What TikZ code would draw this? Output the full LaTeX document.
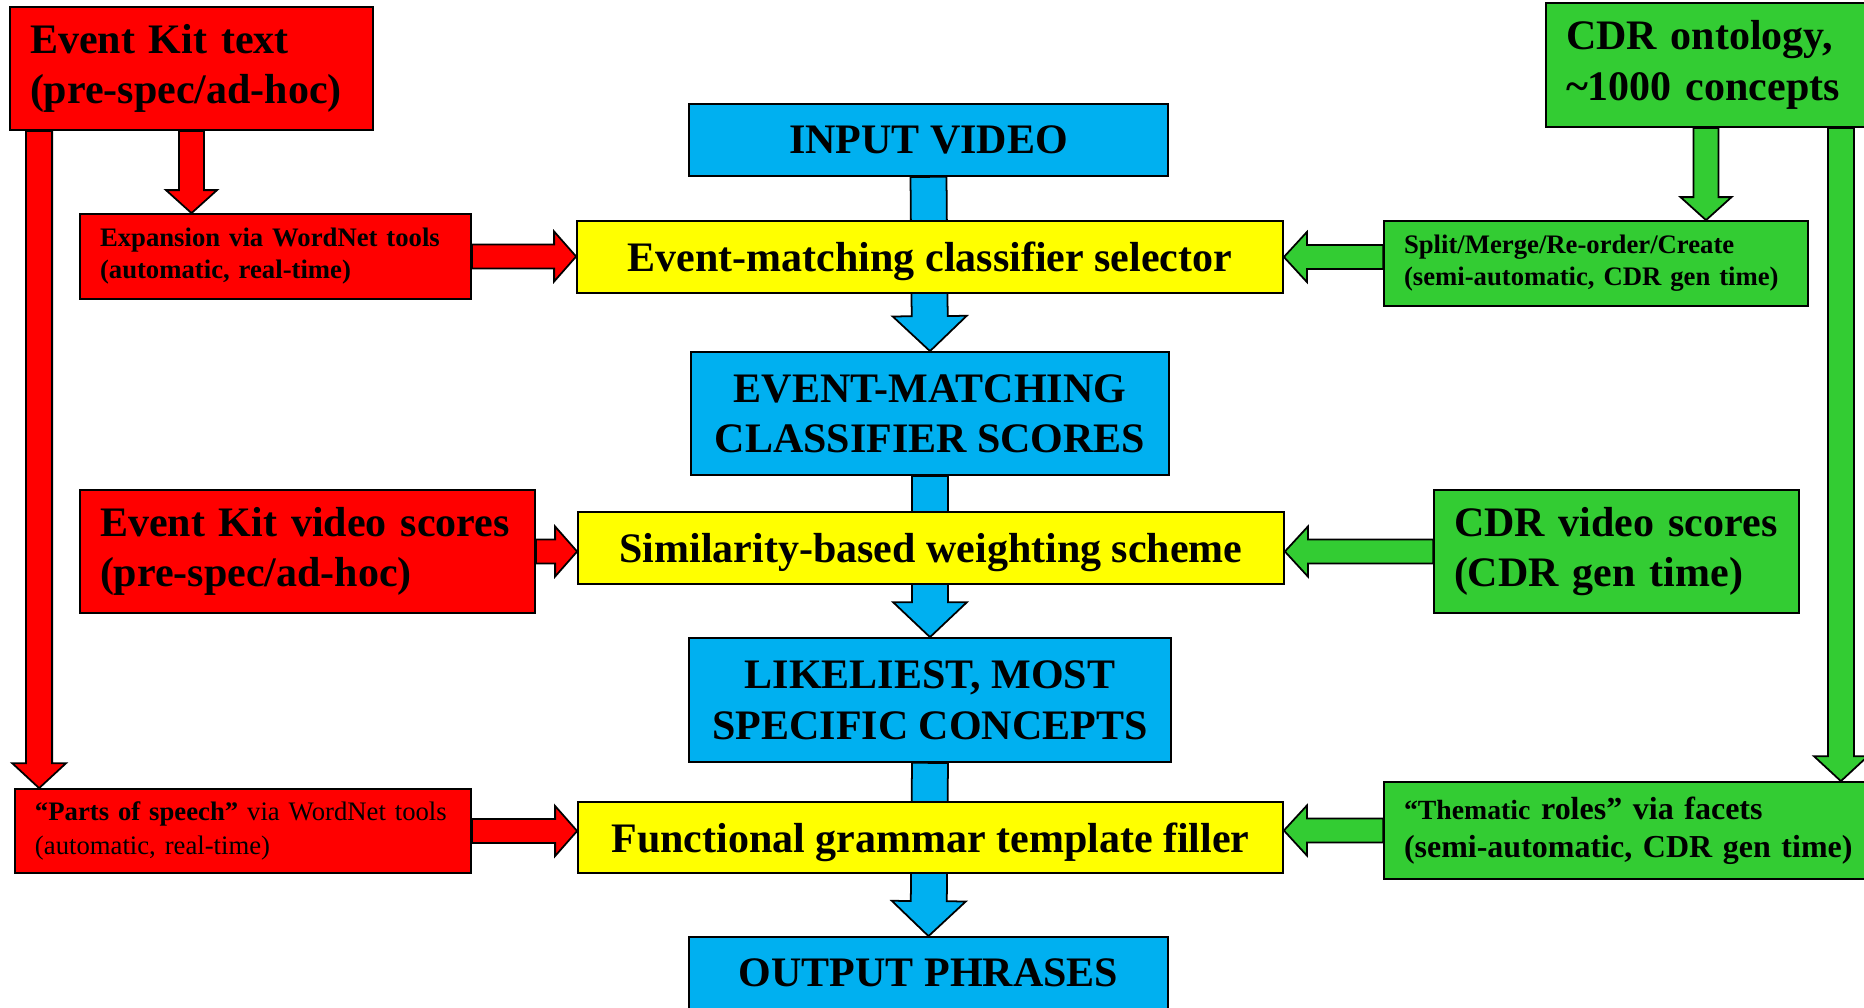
\documentclass[tikz,border=0pt]{standalone}
\usepackage{fontspec}
\setmainfont{Liberation Serif}
\usepackage{xcolor}
\usepackage{tikz}
\usetikzlibrary{calc, backgrounds}
\definecolor{flowblue}{RGB}{0,176,240}
\definecolor{flowyellow}{RGB}{255,255,0}
\definecolor{ekred}{RGB}{255,0,0}
\definecolor{cdrgreen}{RGB}{51,204,51}
\newcommand{\bigtype}{\fontsize{11.95}{14.4}\selectfont\bfseries}
\newcommand{\smalltype}{\fontsize{7.6}{9.1}\selectfont\bfseries}
% block arrow: fill, from, to, shaft half-width, head half-width, head length
\newcommand{\blockarrow}[6]{%
  \coordinate (bah) at ($(#3)!#6!(#2)$);
  \draw[blk, fill=#1] ($(#2)!#4!90:(#3)$) -- ($(bah)!#4!-90:(#2)$) -- ($(bah)!#5!-90:(#2)$)
    -- (#3) -- ($(bah)!#5!90:(#2)$) -- ($(bah)!#4!90:(#2)$) -- ($(#2)!#4!-90:(#3)$) -- cycle;
}

\begin{document}
\begin{tikzpicture}[
  mainbox/.style={rectangle, draw=black, fill=#1, line width=0.5pt, align=center,
                  inner sep=0pt, text depth=0pt, font=\bigtype},
  sidebox/.style={rectangle, draw=black, fill=#1, line width=0.5pt, align=left,
                  inner xsep=0.2cm, inner ysep=0pt},
  blk/.style={draw=black, line width=0.5pt, line join=miter},
]
  \useasboundingbox (0,0) rectangle (18.64,-10.07);

  % Main pipeline
  \node[mainbox=flowblue, minimum width=4.79cm, minimum height=0.72cm] (invideo) at (9.285,-1.40) {INPUT VIDEO};
  \node[mainbox=flowyellow, minimum width=7.06cm, minimum height=0.72cm] (selector) at (9.30,-2.57) {Event-matching classifier selector};
  \node[mainbox=flowblue, minimum width=4.78cm, minimum height=1.23cm] (emscores) at (9.30,-4.135) {EVENT-MATCHING\\CLASSIFIER SCORES};
  \node[mainbox=flowyellow, minimum width=7.06cm, minimum height=0.72cm] (similarity) at (9.31,-5.48) {Similarity-based weighting scheme};
  \node[mainbox=flowblue, minimum width=4.82cm, minimum height=1.24cm] (concepts) at (9.30,-7.00) {LIKELIEST, MOST\\SPECIFIC CONCEPTS};
  \node[mainbox=flowyellow, minimum width=7.05cm, minimum height=0.71cm] (filler) at (9.305,-8.375) {Functional grammar template filler};
  \node[mainbox=flowblue, minimum width=4.79cm, minimum height=0.72cm] (outphrases) at (9.285,-9.73) {OUTPUT PHRASES};

  % Event Kit side
  \node[sidebox=ekred, text width=3.23cm, minimum height=1.23cm, font=\bigtype] (ektext) at (1.915,-0.685) {Event Kit text\\(pre-spec/ad-hoc)};
  \node[sidebox=ekred, text width=3.51cm, minimum height=0.85cm, font=\smalltype] (expansion) at (2.755,-2.565) {Expansion via WordNet tools\\(automatic, real-time)};
  \node[sidebox=ekred, text width=4.15cm, minimum height=1.23cm, font=\bigtype] (ekvideo) at (3.075,-5.515) {Event Kit video scores\\(pre-spec/ad-hoc)};
  \node[sidebox=ekred, text width=4.16cm, minimum height=0.84cm, font={\fontsize{7.6}{9.6}\selectfont}] (parts) at (2.43,-8.31) {\textbf{“Parts of speech”} via WordNet tools\\(automatic, real-time)};

  % CDR side
  \node[sidebox=cdrgreen, text width=2.80cm, minimum height=1.24cm, font=\bigtype] (cdr) at (17.06,-0.65) {CDR ontology,\\\textasciitilde1000 concepts};
  \node[sidebox=cdrgreen, text width=3.84cm, minimum height=0.85cm, font=\smalltype] (split) at (15.96,-2.635) {Split/Merge/Re-order/Create\\(semi-automatic, CDR gen time)};
  \node[sidebox=cdrgreen, text width=3.25cm, minimum height=1.23cm, font=\bigtype] (cdrvideo) at (16.165,-5.515) {CDR video scores\\(CDR gen time)};
  \node[sidebox=cdrgreen, text width=4.60cm, minimum height=0.97cm, font={\fontsize{9.1}{10.8}\selectfont\bfseries}] (thematic) at (16.34,-8.305) {{\fontsize{7.9}{10.8}\selectfont “Thematic} roles” via facets\\(semi-automatic, CDR gen time)};

  % Arrow ends
  \coordinate (ekbar) at ($(ektext.south west)+(0.30,0)$);
  \coordinate (posbar) at (ekbar |- parts.north);
  \coordinate (cdrbar) at ($(cdr.south east)+(-0.26,0)$);
  \coordinate (rolebar) at (cdrbar |- thematic.north);
  \coordinate (exptip) at (ektext.south |- expansion.north);
  \coordinate (splittip) at (cdr.south |- split.north);
  \coordinate (selleft) at (expansion.east -| selector.west);
  \coordinate (selright) at (selector.east -| split.west);
  \coordinate (simleft) at (ekvideo.east -| similarity.west);
  \coordinate (simright) at (cdrvideo.west -| similarity.east);
  \coordinate (fillleft) at (parts.east -| filler.west);
  \coordinate (fillright) at (thematic.west -| filler.east);

  % Connections
  \begin{scope}[on background layer]
    \blockarrow{flowblue}{invideo.south}{emscores.north}{0.18cm}{0.37cm}{0.35cm}
    \blockarrow{flowblue}{emscores.south}{concepts.north}{0.18cm}{0.37cm}{0.35cm}
    \blockarrow{flowblue}{concepts.south}{outphrases.north}{0.18cm}{0.37cm}{0.35cm}

    \blockarrow{ekred}{ektext.south}{exptip}{0.125cm}{0.255cm}{0.23cm}
    \blockarrow{ekred}{ekbar}{posbar}{0.13cm}{0.27cm}{0.25cm}
    \blockarrow{ekred}{expansion.east}{selleft}{0.12cm}{0.25cm}{0.22cm}
    \blockarrow{ekred}{ekvideo.east}{simleft}{0.12cm}{0.25cm}{0.22cm}
    \blockarrow{ekred}{parts.east}{fillleft}{0.12cm}{0.25cm}{0.22cm}

    \blockarrow{cdrgreen}{cdr.south}{splittip}{0.125cm}{0.255cm}{0.23cm}
    \blockarrow{cdrgreen}{cdrbar}{rolebar}{0.13cm}{0.27cm}{0.25cm}
    \blockarrow{cdrgreen}{selright}{selector.east}{0.12cm}{0.25cm}{0.23cm}
    \blockarrow{cdrgreen}{cdrvideo.west}{simright}{0.12cm}{0.25cm}{0.23cm}
    \blockarrow{cdrgreen}{thematic.west}{fillright}{0.12cm}{0.25cm}{0.23cm}
  \end{scope}
\end{tikzpicture}
\end{document}
